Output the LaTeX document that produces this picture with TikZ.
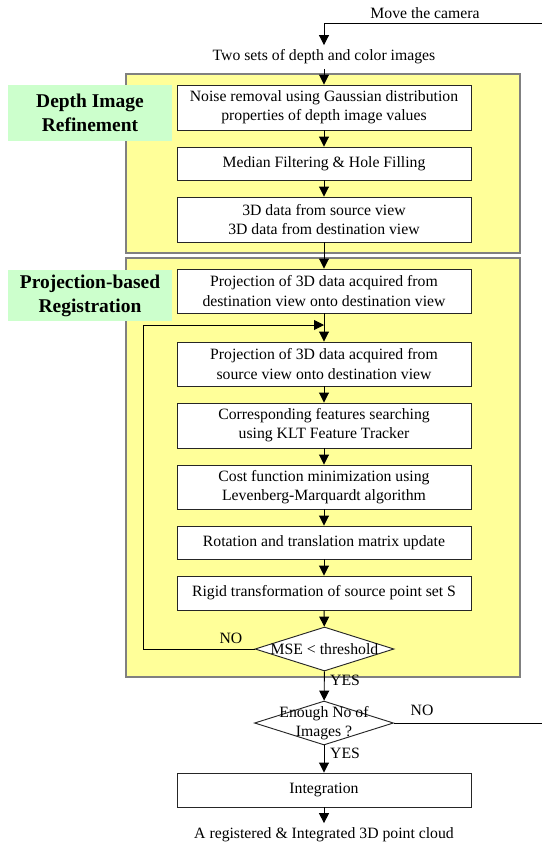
\documentclass[tikz,border=0pt]{standalone}
\usepackage{fontspec}
\setmainfont{Liberation Serif}
\usetikzlibrary{shapes.geometric,arrows.meta}
\definecolor{yel}{HTML}{FFFF99}
\definecolor{grn}{HTML}{CCFFCC}
\definecolor{frame}{HTML}{808080}
\begin{document}
\begin{tikzpicture}[x=0.75pt,y=-0.75pt,
  txt/.style={font=\fontsize{11.8}{14.3}\selectfont,align=center},
  box/.style={txt,draw=black!85,fill=white,line width=0.7pt,minimum width=220.5pt,inner sep=0pt},
  ybox/.style={draw=frame,fill=yel,line width=0.8pt},
  glab/.style={fill=grn,minimum width=123pt,align=center,inner sep=0pt,font=\fontsize{14.6}{18}\selectfont\bfseries},
  dia/.style={diamond,draw=black!85,fill=white,line width=0.7pt,minimum width=104.25pt,minimum height=33pt,inner sep=0pt},
  arr/.style={-{Triangle[width=7.5pt,length=7.5pt]},line width=0.7pt},
  ln/.style={line width=0.7pt}]
\useasboundingbox (0,0) rectangle (542,847);
% yellow panels
\draw[ybox] (126,74) rectangle (520,253);
\draw[ybox] (126,258) rectangle (520,677);
% green labels
\node[glab,minimum height=42pt] (g1) at (90,113) {Depth Image\\Refinement};
\node[glab,minimum height=38.25pt] (g2) at (90,295.5) {Projection-based\\Registration};
% top
\node[txt] (cam) at (425,13) {Move the camera};
\coordinate (camR) at (542,23);
\coordinate (camC) at (324,23);
\node[txt] (in) at (324,57) {Two sets of depth and color images};
% boxes
\node[box,minimum height=33.75pt] (b1) at (324,107.5) {Noise removal using Gaussian distribution\\properties of depth image values};
\node[box,minimum height=24.75pt] (b2) at (324,163.5) {Median Filtering \& Hole Filling};
\node[box,minimum height=33.75pt] (b3) at (324,219.5) {3D data from source view\\3D data from destination view};
\node[box,minimum height=33pt] (b4) at (324,291) {Projection of 3D data acquired from\\destination view onto destination view};
\node[box,minimum height=33pt] (b5) at (324,364) {Projection of 3D data acquired from\\source view onto destination view};
\node[box,minimum height=33.75pt] (b6) at (324,425.5) {Corresponding features searching\\using KLT Feature Tracker};
\node[box,minimum height=33pt] (b7) at (324,487) {Cost function minimization using\\Levenberg-Marquardt algorithm};
\node[box,minimum height=24.75pt] (b8) at (324,542.5) {Rotation and translation matrix update};
\node[box,minimum height=25.5pt] (b9) at (324,593) {Rigid transformation of source point set S};
\node[dia] (d1) at (324.5,649) {};
\node[txt] (d1t) at (d1) {MSE < threshold};
\node[dia] (d2) at (324,723) {};
\node[txt] (d2t) at (d2) {Enough No of\\Images ?};
\node[box,minimum height=25.5pt] (int) at (324,790) {Integration};
\node[txt] (out) at (324,835) {A registered \& Integrated 3D point cloud};
% connectors
\draw[arr] (camR) -- (camC) -- (in);
\draw[arr] (in) -- (b1);
\draw[arr] (b1) -- (b2);
\draw[arr] (b2) -- (b3);
\draw[arr] (b3) -- (b4);
\draw[arr] (b4) -- (b5);
\draw[arr] (b5) -- (b6);
\draw[arr] (b6) -- (b7);
\draw[arr] (b7) -- (b8);
\draw[arr] (b8) -- (b9);
\draw[arr] (b9) -- (d1);
\coordinate (loopL) at (143.5,649);
\coordinate (loopin) at (324,325);
\draw[arr] (d1.west) -- (loopL) |- (loopin);
\node[txt] (no1) at (231,638) {NO};
\draw[arr] (d1) -- (d2);
\node[txt] (yes1) at (345,680) {YES};
\coordinate (noR) at (542,723);
\draw[ln] (d2.east) -- (noR);
\node[txt] (no2) at (422,710) {NO};
\draw[arr] (d2) -- (int);
\node[txt] (yes2) at (345,753) {YES};
\draw[arr] (int) -- (out);
\end{tikzpicture}
\end{document}
